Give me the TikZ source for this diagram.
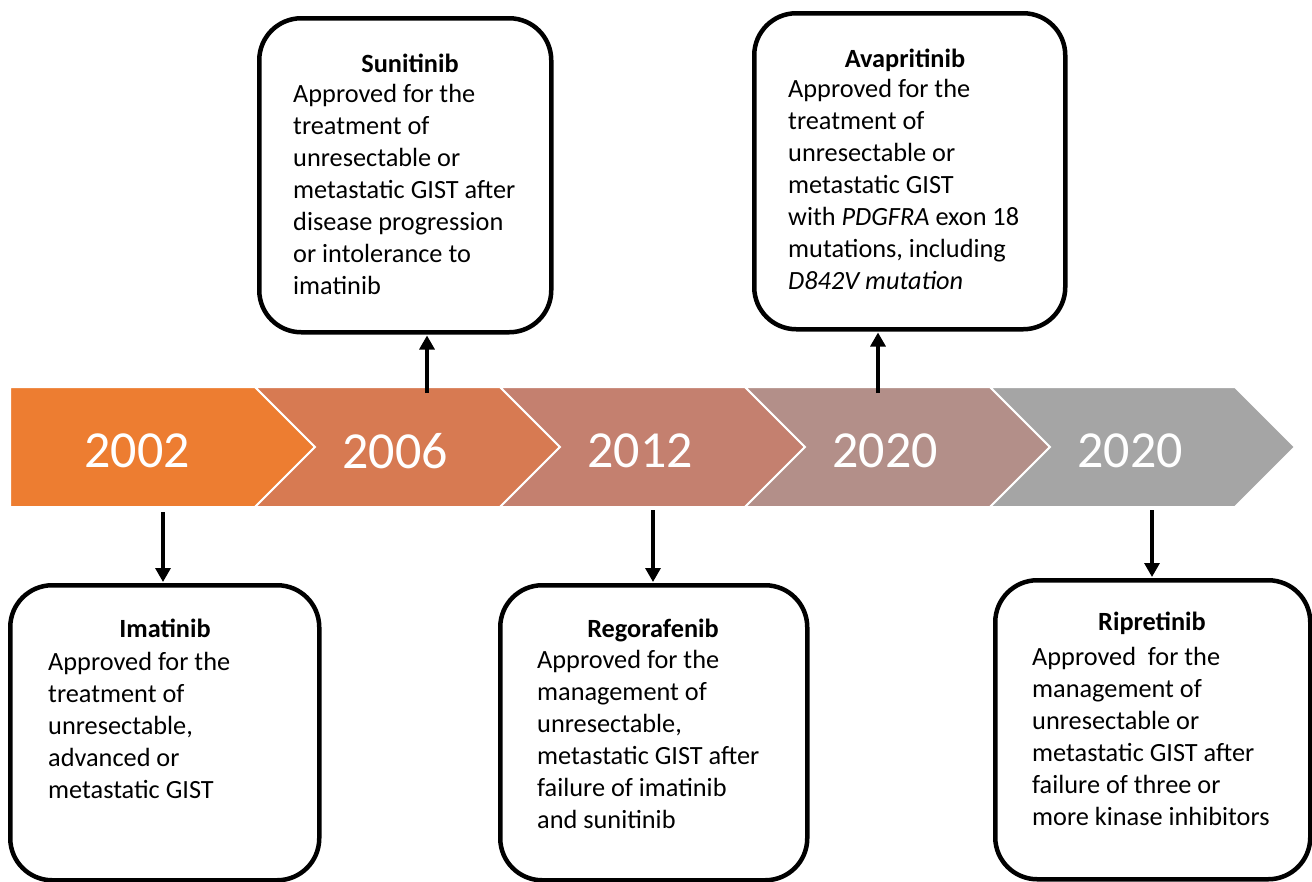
\documentclass[tikz,border=0pt]{standalone}
\usepackage{fontspec}
\setmainfont{Carlito}
\usetikzlibrary{arrows.meta}
\definecolor{c1}{HTML}{ED7D31}
\definecolor{c2}{HTML}{D77A52}
\definecolor{c3}{HTML}{C4806F}
\definecolor{c4}{HTML}{B38F89}
\definecolor{c5}{HTML}{A5A5A5}
\newcommand{\linesof}[1]{\begin{tabular}[t]{@{}l@{}}#1\end{tabular}}
\tikzset{
  boxshape/.style={draw=black, line width=4.5pt, rounded corners=42pt, fill=white, anchor=north west, inner sep=0pt},
  chev/.style={draw=white, line width=2pt},
  yeartxt/.style={text=white, font=\fontsize{52}{60}\selectfont, inner sep=0pt, anchor=center},
  ttl/.style={font=\fontsize{26.3}{32}\selectfont\bfseries, inner sep=0pt, anchor=base},
  bodytxt/.style={font=\fontsize{26.3}{32}\selectfont, inner sep=0pt, anchor=base west},
  arr/.style={line width=3.2pt, -{Triangle[width=15pt,length=14pt]}, shorten >=1pt}
}
\begin{document}
\begin{tikzpicture}[x=1pt,y=-1pt]
\useasboundingbox (0,0) rectangle (1312,881);
% chevrons
\fill[c1,chev] (10,387) -- (255,387) -- (315,447) -- (255,507) -- (10,507) -- cycle;
\fill[c2,chev] (255,387) -- (500,387) -- (560,447) -- (500,507) -- (255,507) -- (315,447) -- cycle;
\fill[c3,chev] (500,387) -- (745,387) -- (805,447) -- (745,507) -- (500,507) -- (560,447) -- cycle;
\fill[c4,chev] (745,387) -- (990,387) -- (1050,447) -- (990,507) -- (745,507) -- (805,447) -- cycle;
\fill[c5,chev] (990,387) -- (1235,387) -- (1295,447) -- (1235,507) -- (990,507) -- (1050,447) -- cycle;
\node[yeartxt] (y1) at (137,451) {2002};
\node[yeartxt] (y2) at (395,451) {2006};
\node[yeartxt] (y3) at (640,451) {2012};
\node[yeartxt] (y4) at (885,451) {2020};
\node[yeartxt] (y5) at (1130,451) {2020};
% boxes
\node[boxshape, minimum width=292pt, minimum height=314pt] (sun) at (257,16) {};
\node[boxshape, minimum width=311pt, minimum height=316pt] (ava) at (752,11) {};
\node[boxshape, minimum width=309pt, minimum height=295pt] (ima) at (8,583) {};
\node[boxshape, minimum width=307pt, minimum height=295pt] (reg) at (498,583) {};
\node[boxshape, minimum width=315pt, minimum height=299pt] (rip) at (993,578) {};
% texts
\node[ttl] (sunt) at (410,72) {Sunitinib};
\node[bodytxt] (sunb) at (293,102) {\linesof{Approved for the\\treatment of\\unresectable or\\metastatic GIST after\\disease progression\\or intolerance to\\imatinib}};
\node[ttl] (avat) at (905,67) {Avapritinib};
\node[bodytxt] (avab) at (788,97) {\linesof{Approved for the\\treatment of\\unresectable or\\metastatic GIST\\with \textit{PDGFRA} exon 18\\mutations, including\\\textit{D842V mutation}}};
\node[ttl] (imat) at (165,637) {Imatinib};
\node[bodytxt] (imab) at (48,670) {\linesof{Approved for the\\treatment of\\unresectable,\\advanced or\\metastatic GIST}};
\node[ttl] (regt) at (653,637) {Regorafenib};
\node[bodytxt] (regb) at (537,668) {\linesof{Approved for the\\management of\\unresectable,\\metastatic GIST after\\failure of imatinib\\and sunitinib}};
\node[ttl] (ript) at (1152,630) {Ripretinib};
\node[bodytxt] (ripb) at (1032,665) {\linesof{Approved\ \ for the\\management of\\unresectable or\\metastatic GIST after\\failure of three or\\more kinase inhibitors}};
% arrows
\coordinate (a1) at (163,512);
\coordinate (a2) at (427,393);
\coordinate (a3) at (653,510);
\coordinate (a4) at (878,393);
\coordinate (a5) at (1152,510);
\draw[arr] (a1) -- (a1 |- ima.north);
\draw[arr] (a2) -- (a2 |- sun.south);
\draw[arr] (a3) -- (a3 |- reg.north);
\draw[arr] (a4) -- (a4 |- ava.south);
\draw[arr] (a5) -- (a5 |- rip.north);
\end{tikzpicture}
\end{document}
